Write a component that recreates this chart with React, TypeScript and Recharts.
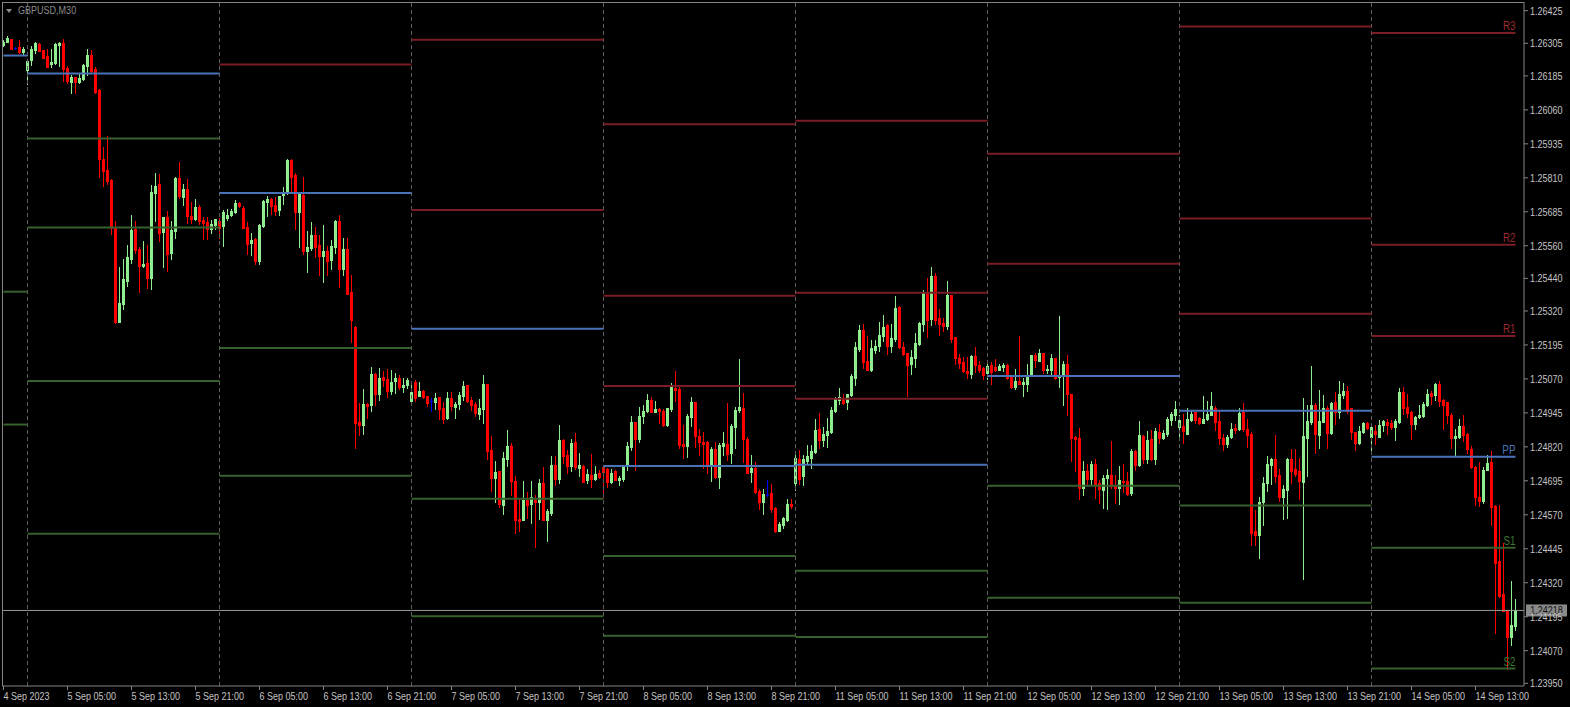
import React from 'react';
import { ComposedChart, Bar, XAxis, YAxis, ReferenceLine } from 'recharts';

// ---- GBPUSD M30 candles, [open, high, low, close] per bar, grouped per trading day ----
const sep04 = [
  [1.26299, 1.26317, 1.26296, 1.26311], [1.26311, 1.26332, 1.26309, 1.26323], [1.26321, 1.26321, 1.26283, 1.26284],
  [1.26287, 1.26293, 1.26283, 1.26287], [1.26292, 1.26317, 1.26271, 1.26274], [1.26274, 1.26292, 1.26266, 1.26283],
];
const sep05 = [
  [1.26207, 1.26246, 1.26155, 1.26239], [1.26244, 1.26296, 1.26225, 1.26284], [1.26280, 1.26308, 1.26268, 1.26305],
  [1.26303, 1.26305, 1.26277, 1.26278], [1.26280, 1.26280, 1.26251, 1.26252], [1.26258, 1.26284, 1.26217, 1.26219],
  [1.26229, 1.26284, 1.26219, 1.26236], [1.26233, 1.26305, 1.26229, 1.26303], [1.26299, 1.26308, 1.26223, 1.26305],
  [1.26305, 1.26321, 1.26168, 1.26211], [1.26214, 1.26222, 1.26160, 1.26166], [1.26164, 1.26188, 1.26123, 1.26181],
  [1.26180, 1.26180, 1.26123, 1.26161], [1.26161, 1.26192, 1.26158, 1.26179], [1.26174, 1.26228, 1.26170, 1.26225],
  [1.26223, 1.26284, 1.26188, 1.26262], [1.26262, 1.26280, 1.26195, 1.26202], [1.26211, 1.26217, 1.26121, 1.26127],
  [1.26133, 1.26137, 1.25814, 1.25879], [1.25879, 1.25923, 1.25781, 1.25836], [1.25839, 1.25964, 1.25786, 1.25798],
  [1.25802, 1.25806, 1.25603, 1.25627], [1.25629, 1.25651, 1.25277, 1.25279], [1.25279, 1.25482, 1.25278, 1.25348],
  [1.25345, 1.25511, 1.25328, 1.25438], [1.25431, 1.25563, 1.25413, 1.25518], [1.25511, 1.25673, 1.25498, 1.25618],
  [1.25622, 1.25651, 1.25532, 1.25544], [1.25548, 1.25555, 1.25391, 1.25485], [1.25485, 1.25576, 1.25483, 1.25493],
  [1.25495, 1.25563, 1.25405, 1.25443], [1.25441, 1.25783, 1.25401, 1.25758], [1.25754, 1.25826, 1.25651, 1.25780],
  [1.25787, 1.25824, 1.25577, 1.25607], [1.25612, 1.25666, 1.25482, 1.25666], [1.25666, 1.25688, 1.25467, 1.25530],
  [1.25533, 1.25652, 1.25511, 1.25618], [1.25614, 1.25813, 1.25588, 1.25811], [1.25811, 1.25868, 1.25736, 1.25743],
  [1.25739, 1.25787, 1.25709, 1.25769], [1.25769, 1.25806, 1.25645, 1.25669], [1.25669, 1.25721, 1.25642, 1.25658],
  [1.25658, 1.25732, 1.25654, 1.25703], [1.25703, 1.25710, 1.25640, 1.25651], [1.25654, 1.25666, 1.25585, 1.25642],
  [1.25647, 1.25666, 1.25585, 1.25622], [1.25622, 1.25654, 1.25607, 1.25640], [1.25636, 1.25658, 1.25622, 1.25658],
];
const sep06 = [
  [1.25651, 1.25662, 1.25588, 1.25626], [1.25632, 1.25692, 1.25559, 1.25684], [1.25662, 1.25695, 1.25654, 1.25673],
  [1.25673, 1.25695, 1.25669, 1.25688], [1.25684, 1.25728, 1.25681, 1.25717], [1.25717, 1.25721, 1.25703, 1.25706],
  [1.25699, 1.25706, 1.25626, 1.25626], [1.25629, 1.25647, 1.25530, 1.25566], [1.25570, 1.25607, 1.25526, 1.25581],
  [1.25585, 1.25588, 1.25493, 1.25504], [1.25504, 1.25640, 1.25493, 1.25636], [1.25632, 1.25728, 1.25629, 1.25724],
  [1.25721, 1.25743, 1.25669, 1.25732], [1.25732, 1.25736, 1.25677, 1.25706], [1.25710, 1.25739, 1.25673, 1.25688],
  [1.25692, 1.25743, 1.25673, 1.25743], [1.25747, 1.25776, 1.25714, 1.25758], [1.25754, 1.25879, 1.25750, 1.25875],
  [1.25875, 1.25879, 1.25754, 1.25813], [1.25820, 1.25828, 1.25622, 1.25684], [1.25684, 1.25758, 1.25555, 1.25754],
  [1.25747, 1.25813, 1.25530, 1.25540], [1.25540, 1.25614, 1.25463, 1.25555], [1.25552, 1.25647, 1.25544, 1.25599],
  [1.25599, 1.25629, 1.25518, 1.25555], [1.25563, 1.25599, 1.25452, 1.25522], [1.25522, 1.25636, 1.25426, 1.25540],
  [1.25540, 1.25559, 1.25452, 1.25504], [1.25507, 1.25581, 1.25474, 1.25559], [1.25555, 1.25654, 1.25533, 1.25651],
  [1.25651, 1.25673, 1.25409, 1.25474], [1.25474, 1.25588, 1.25452, 1.25548], [1.25548, 1.25588, 1.25382, 1.25382],
  [1.25390, 1.25452, 1.25207, 1.25287], [1.25261, 1.25263, 1.24817, 1.24907], [1.24913, 1.24980, 1.24864, 1.24899],
  [1.24899, 1.25033, 1.24867, 1.24978], [1.24978, 1.24980, 1.24926, 1.24972], [1.24973, 1.25114, 1.24952, 1.25088],
  [1.25088, 1.25092, 1.24974, 1.25014], [1.25014, 1.25110, 1.24992, 1.25073], [1.25077, 1.25099, 1.25044, 1.25066],
  [1.25070, 1.25106, 1.25003, 1.25025], [1.25025, 1.25103, 1.25014, 1.25059], [1.25062, 1.25092, 1.25017, 1.25073],
  [1.25073, 1.25084, 1.25033, 1.25040], [1.25040, 1.25073, 1.25022, 1.25048], [1.25048, 1.25073, 1.25037, 1.25066],
];
const sep07 = [
  [1.24989, 1.25051, 1.24989, 1.25022], [1.25059, 1.25066, 1.24989, 1.25000], [1.25007, 1.25059, 1.25007, 1.25025],
  [1.25025, 1.25029, 1.25000, 1.25003], [1.25007, 1.25007, 1.24970, 1.24981], [1.24990, 1.25000, 1.24952, 1.24990],
  [1.24985, 1.25018, 1.24959, 1.25000], [1.25003, 1.25003, 1.24922, 1.24959], [1.24963, 1.24985, 1.24908, 1.24922],
  [1.24926, 1.25022, 1.24922, 1.25000], [1.25000, 1.25022, 1.24956, 1.24970], [1.24967, 1.24985, 1.24926, 1.24978],
  [1.24978, 1.25022, 1.24959, 1.25011], [1.25007, 1.25062, 1.24992, 1.25044], [1.25048, 1.25048, 1.24985, 1.24989],
  [1.24992, 1.25003, 1.24956, 1.24974], [1.24978, 1.24985, 1.24933, 1.24945], [1.24941, 1.24996, 1.24922, 1.24963],
  [1.24959, 1.25084, 1.24908, 1.25051], [1.25051, 1.25051, 1.24775, 1.24805], [1.24808, 1.24860, 1.24657, 1.24705],
  [1.24705, 1.24768, 1.24617, 1.24727], [1.24731, 1.24731, 1.24598, 1.24610], [1.24606, 1.24801, 1.24573, 1.24779],
  [1.24775, 1.24882, 1.24749, 1.24823], [1.24823, 1.24834, 1.24643, 1.24694], [1.24694, 1.24713, 1.24503, 1.24551],
  [1.24554, 1.24628, 1.24510, 1.24547], [1.24551, 1.24694, 1.24551, 1.24624], [1.24624, 1.24654, 1.24558, 1.24606],
  [1.24610, 1.24694, 1.24540, 1.24635], [1.24624, 1.24643, 1.24451, 1.24617], [1.24617, 1.24702, 1.24554, 1.24687],
  [1.24687, 1.24746, 1.24551, 1.24551], [1.24551, 1.24591, 1.24473, 1.24584], [1.24576, 1.24786, 1.24569, 1.24753],
  [1.24753, 1.24786, 1.24680, 1.24702], [1.24702, 1.24900, 1.24687, 1.24845], [1.24845, 1.24849, 1.24760, 1.24786],
  [1.24790, 1.24808, 1.24724, 1.24749], [1.24749, 1.24849, 1.24731, 1.24834], [1.24838, 1.24871, 1.24738, 1.24746],
  [1.24742, 1.24797, 1.24713, 1.24753], [1.24749, 1.24753, 1.24691, 1.24691], [1.24698, 1.24738, 1.24687, 1.24720],
  [1.24716, 1.24794, 1.24672, 1.24702], [1.24702, 1.24749, 1.24698, 1.24720], [1.24724, 1.24735, 1.24705, 1.24709],
];
const sep08 = [
  [1.24745, 1.24747, 1.24637, 1.24726], [1.24738, 1.24743, 1.24672, 1.24690], [1.24690, 1.24737, 1.24687, 1.24722],
  [1.24731, 1.24735, 1.24698, 1.24698], [1.24698, 1.24713, 1.24679, 1.24706], [1.24702, 1.24752, 1.24694, 1.24747],
  [1.24749, 1.24838, 1.24735, 1.24823], [1.24819, 1.24933, 1.24808, 1.24911], [1.24911, 1.24911, 1.24735, 1.24849],
  [1.24849, 1.24967, 1.24838, 1.24933], [1.24933, 1.24974, 1.24908, 1.24952], [1.24952, 1.25014, 1.24948, 1.24992],
  [1.24992, 1.25003, 1.24948, 1.24948], [1.24948, 1.24989, 1.24948, 1.24959], [1.24959, 1.24963, 1.24908, 1.24952],
  [1.24952, 1.24959, 1.24897, 1.24900], [1.24900, 1.24963, 1.24897, 1.24963], [1.24959, 1.25055, 1.24952, 1.25040],
  [1.25037, 1.25099, 1.24989, 1.25029], [1.25033, 1.25044, 1.24816, 1.24827], [1.24830, 1.24900, 1.24779, 1.24823],
  [1.24823, 1.24941, 1.24783, 1.24933], [1.24930, 1.25003, 1.24897, 1.24985], [1.24985, 1.24985, 1.24819, 1.24860],
  [1.24860, 1.24886, 1.24790, 1.24838], [1.24838, 1.24875, 1.24742, 1.24830], [1.24838, 1.24841, 1.24724, 1.24757],
  [1.24757, 1.24819, 1.24694, 1.24812], [1.24812, 1.24838, 1.24705, 1.24709], [1.24709, 1.24834, 1.24668, 1.24827],
  [1.24823, 1.24875, 1.24790, 1.24834], [1.24830, 1.24981, 1.24771, 1.24794], [1.24797, 1.24904, 1.24760, 1.24897],
  [1.24893, 1.24967, 1.24816, 1.24956], [1.24956, 1.25143, 1.24948, 1.24967], [1.24963, 1.25018, 1.24764, 1.24849],
  [1.24849, 1.24856, 1.24724, 1.24724], [1.24727, 1.24790, 1.24690, 1.24742], [1.24742, 1.24764, 1.24650, 1.24654],
  [1.24657, 1.24665, 1.24591, 1.24617], [1.24617, 1.24665, 1.24573, 1.24646], [1.24643, 1.24698, 1.24639, 1.24643],
  [1.24650, 1.24683, 1.24580, 1.24591], [1.24595, 1.24598, 1.24506, 1.24510], [1.24510, 1.24543, 1.24510, 1.24536],
  [1.24532, 1.24562, 1.24521, 1.24558], [1.24551, 1.24628, 1.24547, 1.24610], [1.24610, 1.24628, 1.24595, 1.24602],
];
const sep11 = [
  [1.24687, 1.24794, 1.24661, 1.24779], [1.24775, 1.24808, 1.24683, 1.24702], [1.24713, 1.24790, 1.24679, 1.24775],
  [1.24768, 1.24827, 1.24757, 1.24786], [1.24779, 1.24827, 1.24742, 1.24805], [1.24801, 1.24922, 1.24797, 1.24882],
  [1.24886, 1.24945, 1.24816, 1.24845], [1.24845, 1.24893, 1.24823, 1.24867], [1.24863, 1.24926, 1.24819, 1.24878],
  [1.24875, 1.24967, 1.24871, 1.24956], [1.24952, 1.25003, 1.24948, 1.24996], [1.24992, 1.25037, 1.24978, 1.25003],
  [1.25000, 1.25014, 1.24978, 1.24981], [1.24985, 1.25014, 1.24959, 1.25014], [1.25011, 1.25088, 1.25007, 1.25081],
  [1.25073, 1.25206, 1.25048, 1.25187], [1.25180, 1.25268, 1.25173, 1.25250], [1.25250, 1.25272, 1.25110, 1.25132],
  [1.25136, 1.25228, 1.25103, 1.25103], [1.25103, 1.25213, 1.25099, 1.25184], [1.25176, 1.25213, 1.25165, 1.25191],
  [1.25191, 1.25279, 1.25173, 1.25232], [1.25228, 1.25305, 1.25210, 1.25261], [1.25268, 1.25272, 1.25162, 1.25191],
  [1.25191, 1.25272, 1.25169, 1.25221], [1.25217, 1.25375, 1.25210, 1.25331], [1.25335, 1.25338, 1.25184, 1.25187],
  [1.25187, 1.25206, 1.25158, 1.25162], [1.25165, 1.25165, 1.25007, 1.25121], [1.25125, 1.25176, 1.25088, 1.25151],
  [1.25147, 1.25239, 1.25114, 1.25202], [1.25198, 1.25279, 1.25195, 1.25276], [1.25272, 1.25397, 1.25246, 1.25390],
  [1.25390, 1.25441, 1.25224, 1.25287], [1.25291, 1.25482, 1.25268, 1.25449], [1.25449, 1.25460, 1.25272, 1.25287],
  [1.25294, 1.25327, 1.25232, 1.25272], [1.25276, 1.25294, 1.25246, 1.25265], [1.25265, 1.25430, 1.25254, 1.25379],
  [1.25379, 1.25379, 1.25206, 1.25217], [1.25224, 1.25224, 1.25125, 1.25147], [1.25147, 1.25162, 1.25110, 1.25129],
  [1.25132, 1.25151, 1.25095, 1.25099], [1.25099, 1.25151, 1.25073, 1.25092], [1.25088, 1.25158, 1.25073, 1.25154],
  [1.25154, 1.25187, 1.25095, 1.25121], [1.25121, 1.25136, 1.25095, 1.25103], [1.25110, 1.25114, 1.25070, 1.25084],
];
const sep12 = [
  [1.25092, 1.25125, 1.25070, 1.25117], [1.25121, 1.25132, 1.25051, 1.25095], [1.25114, 1.25143, 1.25099, 1.25103],
  [1.25103, 1.25125, 1.25103, 1.25117], [1.25114, 1.25129, 1.25099, 1.25121], [1.25121, 1.25125, 1.25070, 1.25073],
  [1.25077, 1.25077, 1.25037, 1.25040], [1.25040, 1.25107, 1.25033, 1.25062], [1.25062, 1.25228, 1.25051, 1.25051],
  [1.25051, 1.25073, 1.25007, 1.25059], [1.25051, 1.25125, 1.25026, 1.25084], [1.25081, 1.25158, 1.25081, 1.25158],
  [1.25158, 1.25165, 1.25114, 1.25140], [1.25136, 1.25180, 1.25136, 1.25165], [1.25165, 1.25165, 1.25092, 1.25103],
  [1.25103, 1.25121, 1.25092, 1.25107], [1.25103, 1.25162, 1.25088, 1.25147], [1.25147, 1.25147, 1.25070, 1.25073],
  [1.25077, 1.25302, 1.25040, 1.25084], [1.25081, 1.25136, 1.24974, 1.25125], [1.25125, 1.25158, 1.24937, 1.25014],
  [1.25014, 1.25014, 1.24768, 1.24852], [1.24856, 1.24860, 1.24731, 1.24849], [1.24852, 1.24889, 1.24628, 1.24668],
  [1.24668, 1.24768, 1.24643, 1.24731], [1.24731, 1.24757, 1.24680, 1.24702], [1.24702, 1.24768, 1.24683, 1.24757],
  [1.24757, 1.24775, 1.24632, 1.24680], [1.24687, 1.24698, 1.24613, 1.24665], [1.24661, 1.24716, 1.24595, 1.24705],
  [1.24705, 1.24738, 1.24591, 1.24716], [1.24716, 1.24841, 1.24668, 1.24676], [1.24680, 1.24716, 1.24613, 1.24668],
  [1.24668, 1.24749, 1.24610, 1.24698], [1.24694, 1.24757, 1.24654, 1.24691], [1.24694, 1.24727, 1.24643, 1.24646],
  [1.24650, 1.24812, 1.24643, 1.24805], [1.24805, 1.24808, 1.24735, 1.24753], [1.24753, 1.24915, 1.24749, 1.24864],
  [1.24860, 1.24864, 1.24760, 1.24775], [1.24775, 1.24878, 1.24760, 1.24845], [1.24849, 1.24882, 1.24772, 1.24775],
  [1.24775, 1.24889, 1.24757, 1.24878], [1.24875, 1.24904, 1.24834, 1.24853], [1.24853, 1.24882, 1.24849, 1.24871],
  [1.24867, 1.24930, 1.24860, 1.24922], [1.24919, 1.24948, 1.24900, 1.24941], [1.24937, 1.24989, 1.24919, 1.24959],
];
const sep13 = [
  [1.24893, 1.24937, 1.24849, 1.24919], [1.24897, 1.24941, 1.24834, 1.24878], [1.24867, 1.24963, 1.24867, 1.24922],
  [1.24919, 1.24956, 1.24915, 1.24941], [1.24948, 1.24948, 1.24908, 1.24919], [1.24926, 1.24930, 1.24904, 1.24908],
  [1.24908, 1.25007, 1.24908, 1.24922], [1.24922, 1.24989, 1.24919, 1.24941], [1.24937, 1.25022, 1.24937, 1.24970],
  [1.24963, 1.24970, 1.24882, 1.24911], [1.24915, 1.24956, 1.24830, 1.24853], [1.24853, 1.24867, 1.24808, 1.24830],
  [1.24830, 1.24864, 1.24819, 1.24856], [1.24856, 1.24908, 1.24853, 1.24886], [1.24889, 1.24904, 1.24871, 1.24882],
  [1.24886, 1.24963, 1.24882, 1.24945], [1.24948, 1.24981, 1.24878, 1.24886], [1.24886, 1.24922, 1.24819, 1.24864],
  [1.24867, 1.24875, 1.24459, 1.24503], [1.24510, 1.24588, 1.24459, 1.24495], [1.24495, 1.24635, 1.24411, 1.24617],
  [1.24617, 1.24709, 1.24532, 1.24687], [1.24687, 1.24786, 1.24657, 1.24757], [1.24753, 1.24779, 1.24683, 1.24775],
  [1.24775, 1.24864, 1.24691, 1.24713], [1.24716, 1.24738, 1.24621, 1.24635], [1.24635, 1.24680, 1.24554, 1.24665],
  [1.24661, 1.24779, 1.24558, 1.24775], [1.24775, 1.24812, 1.24687, 1.24731], [1.24738, 1.24812, 1.24713, 1.24720],
  [1.24731, 1.24779, 1.24628, 1.24694], [1.24691, 1.25000, 1.24334, 1.24860], [1.24853, 1.24974, 1.24713, 1.24915],
  [1.24911, 1.25118, 1.24904, 1.24974], [1.24974, 1.24981, 1.24797, 1.24867], [1.24864, 1.25029, 1.24816, 1.24915],
  [1.24911, 1.25011, 1.24911, 1.24963], [1.24963, 1.24970, 1.24816, 1.24871], [1.24871, 1.24985, 1.24867, 1.24981],
  [1.24985, 1.25022, 1.24904, 1.24948], [1.24948, 1.25062, 1.24926, 1.25014], [1.25011, 1.25055, 1.25000, 1.25026],
  [1.25026, 1.25044, 1.24945, 1.24952], [1.24963, 1.24963, 1.24849, 1.24875], [1.24875, 1.24875, 1.24808, 1.24834],
  [1.24834, 1.24897, 1.24830, 1.24878], [1.24875, 1.24911, 1.24871, 1.24908], [1.24908, 1.24911, 1.24886, 1.24889],
];
const sep14 = [
  [1.24856, 1.24900, 1.24808, 1.24893], [1.24878, 1.24900, 1.24831, 1.24867], [1.24856, 1.24919, 1.24856, 1.24900],
  [1.24900, 1.24919, 1.24878, 1.24915], [1.24912, 1.24923, 1.24867, 1.24900], [1.24908, 1.24919, 1.24886, 1.24893],
  [1.24893, 1.24923, 1.24845, 1.24915], [1.24912, 1.25037, 1.24908, 1.25022], [1.25022, 1.25040, 1.24941, 1.24963],
  [1.24967, 1.25015, 1.24930, 1.24945], [1.24948, 1.24952, 1.24849, 1.24904], [1.24904, 1.24934, 1.24886, 1.24930],
  [1.24930, 1.24974, 1.24926, 1.24937], [1.24934, 1.24985, 1.24930, 1.24978], [1.24974, 1.25033, 1.24970, 1.25015],
  [1.25018, 1.25026, 1.24978, 1.25007], [1.25011, 1.25055, 1.24992, 1.25051], [1.25051, 1.25062, 1.24970, 1.24989],
  [1.24992, 1.24996, 1.24886, 1.24974], [1.24985, 1.24985, 1.24908, 1.24937], [1.24937, 1.24945, 1.24816, 1.24853],
  [1.24853, 1.24886, 1.24790, 1.24860], [1.24856, 1.24923, 1.24853, 1.24897], [1.24897, 1.24937, 1.24842, 1.24864],
  [1.24867, 1.24871, 1.24797, 1.24812], [1.24812, 1.24823, 1.24742, 1.24746], [1.24746, 1.24750, 1.24606, 1.24635],
  [1.24635, 1.24764, 1.24602, 1.24621], [1.24621, 1.24746, 1.24613, 1.24735], [1.24735, 1.24790, 1.24735, 1.24761],
  [1.24764, 1.24805, 1.24532, 1.24599], [1.24602, 1.24606, 1.24135, 1.24392], [1.24400, 1.24606, 1.24267, 1.24271],
  [1.24278, 1.24466, 1.24216, 1.24216], [1.24219, 1.24219, 1.24002, 1.24120], [1.24120, 1.24326, 1.24091, 1.24164],
  [1.24161, 1.24260, 1.24146, 1.24218],
];

// ---- daily pivot levels (first bar index of each day) ----
const dayStartIdx = [0, 6, 54, 102, 150, 198, 246, 294, 342];
const pivotPP = [1.26260, 1.26194, 1.25754, 1.25255, 1.24750, 1.24754, 1.25081, 1.24953, 1.24784];
// resistances listed R1, R2, R3 (only those inside the visible price range)
const pivotR = [
  [], [], [1.26227], [1.25692, 1.26318], [1.25044, 1.25376, 1.26007], [1.24997, 1.25387, 1.26020],
  [1.25494, 1.25899], [1.25310, 1.25660, 1.26367], [1.25228, 1.25564, 1.26343],
];
// supports listed S1, S2, S3, ...
const pivotS = [
  [1.25391, 1.24902], [1.25955, 1.25627, 1.25062, 1.24500], [1.25184, 1.24714], [1.24629, 1.24197],
  [1.24418, 1.24125], [1.24364, 1.24120], [1.24677, 1.24265], [1.24604, 1.24246], [1.24449, 1.24004],
];

const priceTicks = [
  1.26425, 1.26305, 1.26185, 1.26060, 1.25935, 1.25810, 1.25685, 1.25560, 1.25440, 1.25320, 1.25195,
  1.25070, 1.24945, 1.24820, 1.24695, 1.24570, 1.24445, 1.24320, 1.24195, 1.24070, 1.23950,
];
const timeTickIdx = [0, 16, 32, 48, 64, 80, 96, 112, 128, 144, 160, 176, 192, 208, 224, 240, 256, 272, 288, 304, 320, 336, 352, 368];
const timeTickLabels = [
  '4 Sep 2023', '5 Sep 05:00', '5 Sep 13:00', '5 Sep 21:00', '6 Sep 05:00', '6 Sep 13:00', '6 Sep 21:00',
  '7 Sep 05:00', '7 Sep 13:00', '7 Sep 21:00', '8 Sep 05:00', '8 Sep 13:00', '8 Sep 21:00', '11 Sep 05:00',
  '11 Sep 13:00', '11 Sep 21:00', '12 Sep 05:00', '12 Sep 13:00', '12 Sep 21:00', '13 Sep 05:00', '13 Sep 13:00',
  '13 Sep 21:00', '14 Sep 05:00', '14 Sep 13:00',
];
const symbolTitle = 'GBPUSD,M30';

// ---- styling ----
const W = 1570;
const H = 707;
const FONT = "'Liberation Sans', Arial, sans-serif";
const NARROW = 0.82; // horizontal squeeze to mimic the terminal's narrow UI font
const AXIS_TEXT = '#c4c4c4';
const AXIS_LINE = '#858585';
const BULL = '#90EE90';
const BEAR = '#FF0000';
const DOJI = '#0000FF';
const R_COLOR = '#7a1d24';
const PP_COLOR = '#4a72b6';
const S_COLOR = '#37612c';

const ohlcDays = [sep04, sep05, sep06, sep07, sep08, sep11, sep12, sep13, sep14];
const candles = ohlcDays.flat().map(([o, h, l, c], t) => ({ t, o, h, l, c, hl: [l, h] }));
const lastIdx = candles.length - 1;
const lastClose = candles[lastIdx].c;

const Candle = (props: any) => {
  const { x, y, width, height, payload } = props;
  if (x == null || y == null || !payload) return null;
  const { o, h, l, c } = payload;
  const cx = x + width / 2;
  const top = Math.min(y, y + height);
  const span = Math.abs(height);
  const k = h > l ? span / (h - l) : 0;
  const yOf = (p: number) => top + (h - p) * k;
  const color = c === o ? DOJI : c > o ? BULL : BEAR;
  const col = Math.floor(cx);
  const yHi = Math.round(top);
  const yLo = Math.round(top + span);
  const b1 = Math.round(yOf(Math.max(o, c)));
  const b2 = Math.round(yOf(Math.min(o, c)));
  return (
    <g>
      <rect x={col} y={yHi} width={1} height={Math.max(1, yLo - yHi + 1)} fill={color} />
      <rect x={col - 1} y={b1} width={3} height={Math.max(1, b2 - b1 + 1)} fill={color} />
    </g>
  );
};

const NarrowText = ({ x, y, dy, anchor, fill, size, children }: any) => (
  <text
    transform={`translate(${x},${y}) scale(${NARROW},1)`}
    x={0}
    y={0}
    dy={dy}
    textAnchor={anchor}
    fill={fill}
    fontSize={size}
    fontFamily={FONT}
  >
    {children}
  </text>
);

const TimeTick = (props: any) => {
  const { x, y, payload } = props;
  const k = timeTickIdx.indexOf(payload.value);
  return (
    <NarrowText x={x} y={y} dy="0.72em" anchor="start" fill={AXIS_TEXT} size={11}>
      {timeTickLabels[k]}
    </NarrowText>
  );
};

const PriceTick = (props: any) => {
  const { x, y, payload } = props;
  return (
    <NarrowText x={x} y={y} dy="0.36em" anchor="start" fill={AXIS_TEXT} size={11}>
      {Number(payload.value).toFixed(5)}
    </NarrowText>
  );
};

const levelLabel = (name: string, color: string) => (p: any) => {
  const vb = p.viewBox || {};
  return (
    <NarrowText x={(vb.x || 0) + (vb.width || 0)} y={(vb.y || 0) - 3} dy={0} anchor="end" fill={color} size={12}>
      {name}
    </NarrowText>
  );
};

const PriceTag = (p: any) => {
  const vb = p.viewBox || {};
  const x = (vb.x || 0) + (vb.width || 0) + 2;
  const y = vb.y || 0;
  return (
    <g>
      <rect x={x} y={y - 6} width={41} height={12} fill="#8a8a8a" />
      <NarrowText x={x + 20.5} y={y} dy="0.36em" anchor="middle" fill="#101010" size={11}>
        {lastClose.toFixed(5)}
      </NarrowText>
    </g>
  );
};

const segEnd = (d: number) => (d + 1 < dayStartIdx.length ? dayStartIdx[d + 1] : lastIdx);
const isLastDay = (d: number) => d === dayStartIdx.length - 1;

export default function App() {
  const levelLines: React.ReactNode[] = [];
  dayStartIdx.forEach((start, d) => {
    const end = segEnd(d);
    pivotR[d].forEach((v, k) =>
      levelLines.push(
        <ReferenceLine
          key={`r${d}-${k}`}
          segment={[{ x: start, y: v }, { x: end, y: v }]}
          stroke={R_COLOR}
          strokeWidth={2}
          label={isLastDay(d) ? levelLabel(`R${k + 1}`, '#9c2a30') : undefined}
        />
      )
    );
    pivotS[d].forEach((v, k) =>
      levelLines.push(
        <ReferenceLine
          key={`s${d}-${k}`}
          segment={[{ x: start, y: v }, { x: end, y: v }]}
          stroke={S_COLOR}
          strokeWidth={2}
          label={isLastDay(d) ? levelLabel(`S${k + 1}`, '#3f7a33') : undefined}
        />
      )
    );
    levelLines.push(
      <ReferenceLine
        key={`pp${d}`}
        segment={[{ x: start, y: pivotPP[d] }, { x: end, y: pivotPP[d] }]}
        stroke={PP_COLOR}
        strokeWidth={2}
        label={isLastDay(d) ? levelLabel('PP', '#4f78bd') : undefined}
      />
    );
  });

  return (
    <div style={{ position: 'fixed', left: 0, top: 0, width: W, height: H, background: '#000', overflow: 'hidden' }}>
      <ComposedChart width={W} height={H} data={candles} margin={{ top: 2, right: 0, bottom: 0, left: 2 }}>
        <XAxis
          dataKey="t"
          type="number"
          domain={[-0.375, 380.125]}
          allowDataOverflow
          ticks={timeTickIdx}
          interval={0}
          height={21}
          tickSize={4}
          tick={<TimeTick />}
          axisLine={{ stroke: AXIS_LINE }}
          tickLine={{ stroke: AXIS_LINE }}
        />
        <YAxis
          orientation="right"
          type="number"
          domain={[1.2394, 1.26457]}
          allowDataOverflow
          ticks={priceTicks}
          interval={0}
          width={46}
          tickSize={4}
          tickMargin={2}
          tick={<PriceTick />}
          axisLine={{ stroke: AXIS_LINE }}
          tickLine={{ stroke: AXIS_LINE }}
        />
        {dayStartIdx.slice(1).map((i) => (
          <ReferenceLine key={`sep${i}`} x={i} stroke="#5e5e5e" strokeDasharray="4 3" />
        ))}
        {levelLines}
        <Bar dataKey="hl" barSize={4} shape={<Candle />} isAnimationActive={false} />
        <ReferenceLine y={lastClose} stroke="#9a9a9a" strokeWidth={1} label={PriceTag} />
      </ComposedChart>
      <div
        style={{
          position: 'absolute', left: 2, top: 2, width: 1522, height: 684,
          borderLeft: `1px solid ${AXIS_LINE}`, borderTop: `1px solid ${AXIS_LINE}`,
          boxSizing: 'border-box', pointerEvents: 'none',
        }}
      />
      <div style={{ position: 'absolute', left: 6, top: 4, display: 'flex', alignItems: 'center', pointerEvents: 'none' }}>
        <div style={{ width: 0, height: 0, borderLeft: '3px solid transparent', borderRight: '3px solid transparent', borderTop: '4px solid #8c8c8c', marginRight: 6 }} />
        <span style={{ color: '#8c8c8c', fontSize: 11, fontFamily: FONT, lineHeight: '13px', display: 'inline-block', transform: `scaleX(${NARROW})`, transformOrigin: 'left center' }}>{symbolTitle}</span>
      </div>
    </div>
  );
}
